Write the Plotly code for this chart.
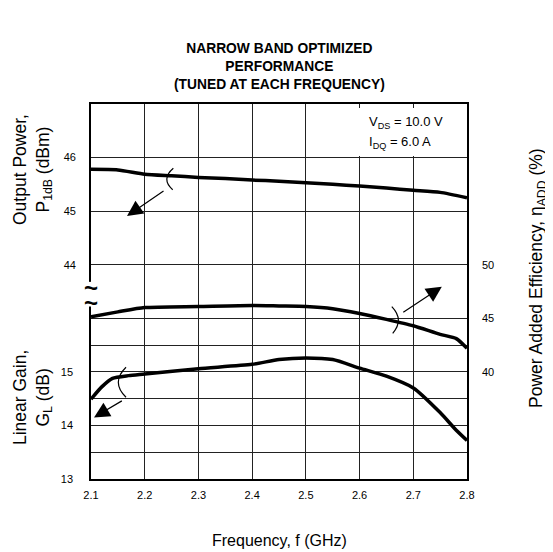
import plotly.graph_objects as go

# ---------------- data ----------------
freq_ticks = [2.1, 2.2, 2.3, 2.4, 2.5, 2.6, 2.7, 2.8]
freq_tick_text = ["2.1", "2.2", "2.3", "2.4", "2.5", "2.6", "2.7", "2.8"]

freq_p1db = [2.1, 2.15, 2.2, 2.25, 2.3, 2.35, 2.4, 2.45, 2.5, 2.55, 2.6, 2.65, 2.7, 2.75, 2.8]
p1db = [45.78, 45.77, 45.69, 45.66, 45.63, 45.61, 45.58, 45.56, 45.53, 45.50, 45.47, 45.43, 45.39, 45.35, 45.25]

freq_pae = [2.1, 2.15, 2.2, 2.3, 2.4, 2.45, 2.5, 2.55, 2.6, 2.65, 2.7, 2.75, 2.78, 2.8]
pae = [45.15, 45.6, 46.0, 46.1, 46.2, 46.15, 46.1, 45.9, 45.45, 44.9, 44.3, 43.5, 43.1, 42.2]

freq_gain = [2.1, 2.12, 2.14, 2.17, 2.2, 2.3, 2.4, 2.45, 2.5, 2.55, 2.6, 2.65, 2.7, 2.75, 2.78, 2.8]
gain = [14.49, 14.72, 14.88, 14.93, 14.96, 15.06, 15.14, 15.23, 15.26, 15.23, 15.07, 14.92, 14.70, 14.24, 13.91, 13.72]

gain_ticks = [13, 13.5, 14, 14.5, 15, 15.5, 16]
gain_tick_text = ["13", "", "14", "", "15", "", ""]
p1db_ticks = [44, 45, 46]
p1db_tick_text = ["44", "45", "46"]
pae_ticks = [40, 45, 50]
pae_tick_text = ["40", "45", "50"]

FONT = "Arial, Liberation Sans, sans-serif"
GRID = "#222222"

fig = go.Figure()
line_style = dict(color="black", width=3.5, shape="spline", smoothing=0.6)
fig.add_trace(go.Scatter(x=freq_p1db, y=p1db, mode="lines", line=line_style, yaxis="y2", showlegend=False))
fig.add_trace(go.Scatter(x=freq_pae, y=pae, mode="lines", line=line_style, yaxis="y3", showlegend=False))
fig.add_trace(go.Scatter(x=freq_gain, y=gain, mode="lines", line=line_style, yaxis="y", showlegend=False))

tickfont = dict(family=FONT, size=11, color="black")

fig.update_layout(
    width=545, height=544,
    margin=dict(l=83, r=86, t=96, b=73),
    paper_bgcolor="white", plot_bgcolor="white",
    font=dict(family=FONT, color="black"),
    xaxis=dict(range=[2.1, 2.8], tickvals=freq_ticks, ticktext=freq_tick_text,
               showgrid=True, gridcolor=GRID, gridwidth=1.3,
               showline=True, linecolor="black", linewidth=1.5, mirror=True,
               ticks="", tickfont=tickfont, ticklabelstandoff=5, zeroline=False),
    yaxis=dict(range=[13, 20], tickvals=gain_ticks, ticktext=gain_tick_text,
               showgrid=True, gridcolor=GRID, gridwidth=1.3,
               showline=True, linecolor="black", linewidth=1.5, mirror=True,
               ticks="", tickfont=tickfont, ticklabelstandoff=14, zeroline=False),
    yaxis2=dict(range=[40, 47], tickvals=p1db_ticks, ticktext=p1db_tick_text,
                overlaying="y", side="left", anchor="x",
                showgrid=True, gridcolor=GRID, gridwidth=1.3,
                ticks="", tickfont=tickfont, ticklabelstandoff=14, zeroline=False),
    yaxis3=dict(range=[30, 65], tickvals=pae_ticks, ticktext=pae_tick_text,
                overlaying="y", side="right", anchor="x",
                showgrid=False, ticks="", tickfont=tickfont, ticklabelstandoff=14, zeroline=False),
)

shapes = []
# axis break gap
shapes.append(dict(type="rect", xref="paper", yref="y", x0=-0.012, x1=0.012, y0=16.22, y1=16.68,
                   fillcolor="white", line=dict(width=0), layer="above"))
# brackets
shapes.append(dict(type="path", xref="x", yref="y2",
                   path="M 2.2533,45.80 Q 2.2296,45.60 2.2521,45.40",
                   line=dict(color="black", width=1.2)))
shapes.append(dict(type="path", xref="x", yref="y",
                   path="M 2.1652,15.085 Q 2.1365,14.805 2.1652,14.525",
                   line=dict(color="black", width=1.2)))
shapes.append(dict(type="path", xref="x", yref="y3",
                   path="M 2.660,46.08 Q 2.6836,44.84 2.6617,43.60",
                   line=dict(color="black", width=1.2)))
fig.update_layout(shapes=shapes)

ann = []
arrow = dict(showarrow=True, arrowhead=2, arrowsize=2.6, arrowwidth=1.2, arrowcolor="black", text="", standoff=0)
ann.append(dict(x=2.167, y=44.91, ax=2.2378, ay=45.395, xref="x", yref="y2", axref="x", ayref="y2", **arrow))
ann.append(dict(x=2.1056, y=14.15, ax=2.1602, ay=14.475, xref="x", yref="y", axref="x", ayref="y", **arrow))
ann.append(dict(x=2.7531, y=47.95, ax=2.6786, ay=45.47, xref="x", yref="y3", axref="x", ayref="y3", **arrow))

# break tildes
for yy in [16.57, 16.29]:
    ann.append(dict(x=0, y=yy, xref="paper", yref="y", text="<b>~</b>", showarrow=False,
                    font=dict(size=24, family=FONT, color="black"), xanchor="center", yanchor="middle"))

# white box behind bias conditions (blank annotation used as a mask)
ann.append(dict(x=2.59, y=46.93, xref="x", yref="y2", text=" ", showarrow=False,
                xanchor="left", yanchor="top", width=110, height=48, bgcolor="white",
                borderpad=0, borderwidth=0))
# bias text
ann.append(dict(x=2.614, y=46.66, xref="x", yref="y2", text="V<sub>DS</sub> = 10.0 V", showarrow=False,
                xanchor="left", yanchor="middle", font=dict(size=13, family=FONT, color="black")))
ann.append(dict(x=2.614, y=46.29, xref="x", yref="y2", text="I<sub>DQ</sub> = 6.0 A", showarrow=False,
                xanchor="left", yanchor="middle", font=dict(size=13, family=FONT, color="black")))

# title
ann.append(dict(x=0.5, y=1, xref="paper", yref="paper", yshift=38,
                text="<b>NARROW BAND OPTIMIZED<br>PERFORMANCE<br>(TUNED AT EACH FREQUENCY)</b>",
                showarrow=False, xanchor="center", yanchor="middle",
                font=dict(size=13.8, family=FONT, color="black")))

# axis titles
tfont = dict(size=17.5, family=FONT, color="black")
ann.append(dict(x=0, y=0.824, xref="paper", yref="paper", xshift=-59,
                text="Output Power,<br>P<sub>1dB</sub> (dBm)", textangle=-90, showarrow=False,
                xanchor="center", yanchor="middle", font=tfont))
ann.append(dict(x=0, y=0.216, xref="paper", yref="paper", xshift=-59,
                text="Linear Gain,<br>G<sub>L</sub> (dB)", textangle=-90, showarrow=False,
                xanchor="center", yanchor="middle", font=tfont))
ann.append(dict(x=1, y=0.536, xref="paper", yref="paper", xshift=70,
                text="Power Added Efficiency, η<sub>ADD</sub> (%)", textangle=-90, showarrow=False,
                xanchor="center", yanchor="middle", font=tfont))
ann.append(dict(x=0.5, y=0, xref="paper", yref="paper", yshift=-61,
                text="Frequency, f (GHz)", showarrow=False,
                xanchor="center", yanchor="middle", font=dict(size=16, family=FONT, color="black")))

fig.update_layout(annotations=ann)
fig.write_html("out.html")
